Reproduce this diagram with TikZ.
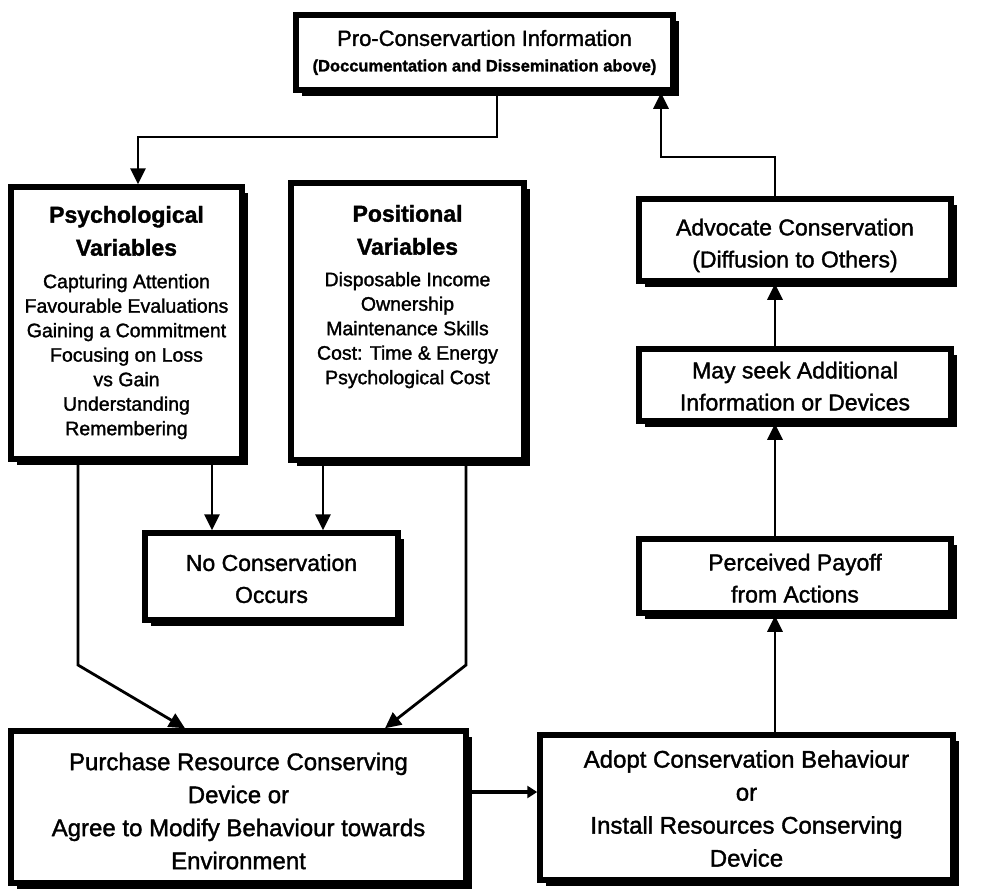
\documentclass[tikz,border=0pt]{standalone}
\usepackage{fontspec}
\setmainfont{Liberation Sans}[FakeBold=1.5]
\usetikzlibrary{arrows.meta,shadows,calc}
\newcommand\dn[2]{\raisebox{-#1}[\height][\depth]{\begin{tabular}{@{}c@{}}#2\end{tabular}}}
\begin{document}
\begin{tikzpicture}[x=1pt,y=-1pt,
  box/.style={draw, line width=5.5pt, fill=white, inner sep=0pt, align=center,
    drop shadow={shadow xshift=6pt, shadow yshift=-6pt, opacity=1, fill=black}},
  conn/.style={line width=2.8pt, -{Triangle[width=15pt,length=16pt]}},
  txt/.style={font=\fontsize{23}{32}\selectfont},
  btxt/.style={font=\fontsize{24}{33}\selectfont}
]
\useasboundingbox (0,0) rectangle (981,894);

% boxes
\node[box, minimum width=377pt, minimum height=75pt] (top) at (484.5,52.5)
  {\dn{0pt}{{\fontsize{22}{26}\selectfont Pro-Conservartion Information}\\[10pt]
   {\bfseries\fontsize{16.5}{19}\selectfont (Doccumentation and Dissemination above)}}};

\node[box] (psy) at (126.5,323)
  {\begin{minipage}[c][272pt][t]{231pt}\centering
   \vspace{19pt}
   {\bfseries\fontsize{23}{33}\selectfont Psychological\\Variables\par}
   \vspace{8pt}
   {\fontsize{19.5}{24.5}\selectfont Capturing Attention\\Favourable Evaluations\\Gaining a Commitment\\Focusing on Loss\\vs Gain\\Understanding\\Remembering\par}
   \end{minipage}};

\node[box] (pos) at (407.5,321.5)
  {\begin{minipage}[c][277pt][t]{233pt}\centering
   \vspace{22pt}
   {\bfseries\fontsize{23}{33}\selectfont Positional\\Variables\par}
   \vspace{7pt}
   {\fontsize{19.5}{24.5}\selectfont Disposable Income\\Ownership\\Maintenance Skills\\Cost: Time \& Energy\\Psychological Cost\par}
   \end{minipage}};

\node[box, txt, minimum width=253pt, minimum height=87pt] (noc) at (271.5,576.5)
  {\dn{4pt}{No Conservation\\Occurs}};

\node[box, btxt, minimum width=455pt, minimum height=152pt] (pur) at (238.5,807)
  {\dn{6pt}{Purchase Resource Conserving\\Device or\\Agree to Modify Behaviour towards\\Environment}};

\node[box, btxt, minimum width=413pt, minimum height=145pt] (ado) at (746.5,807.5)
  {\dn{3pt}{Adopt Conservation Behaviour\\or\\Install Resources Conserving\\Device}};

\node[box, txt, minimum width=312pt, minimum height=74pt] (per) at (795,576)
  {\dn{4pt}{Perceived Payoff\\from Actions}};

\node[box, txt, minimum width=312pt, minimum height=72pt] (may) at (795,385)
  {\dn{3pt}{May seek Additional\\Information or Devices}};

\node[box, txt, minimum width=312pt, minimum height=82pt] (adv) at (795,240)
  {\dn{5pt}{Advocate Conservation\\(Diffusion to Others)}};

% helper coordinates
\coordinate (e1) at (497,137);
\coordinate (e2) at (138,137);
\coordinate (c1) at (775,157);
\coordinate (c2) at (661,157);
\coordinate (d1) at (212,0);
\coordinate (d2) at (323,0);
\coordinate (f1) at (78,665);
\coordinate (f2) at (185,0);
\coordinate (g1) at (466,665);
\coordinate (g2) at (385,0);
\coordinate (h1) at (0,792);

% connectors
\draw[conn] (top.south -| e1) -- (e1) -- (e2) -- (e2 |- psy.north);
\draw[conn] (adv.north -| c1) -- (c1) -- (c2) -- (c2 |- top.south);
\draw[conn] (may.north -| c1) -- (adv.south -| c1);
\draw[conn] (per.north -| c1) -- (may.south -| c1);
\draw[conn] (ado.north -| c1) -- (per.south -| c1);
\draw[conn, line width=4.5pt, -{Triangle[width=12pt,length=10pt]}] (pur.east |- h1) -- (ado.west |- h1);
\draw[conn] (psy.south -| d1) -- (noc.north -| d1);
\draw[conn] (pos.south -| d2) -- (noc.north -| d2);
\draw[conn] (psy.south -| f1) -- (f1) -- (pur.north -| f2);
\draw[conn] (pos.south -| g1) -- (g1) -- (pur.north -| g2);
\end{tikzpicture}
\end{document}
